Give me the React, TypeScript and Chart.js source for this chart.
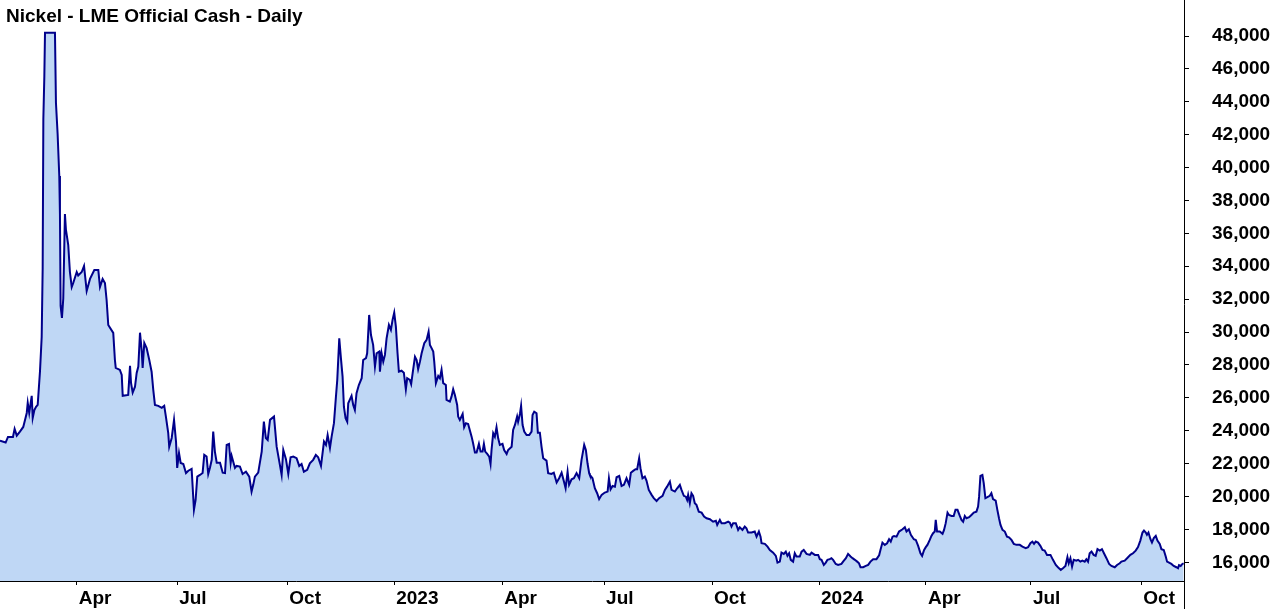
import React, { useEffect, useRef } from 'react';
import { Chart, registerables } from 'chart.js';

Chart.register(...registerables);

const TITLE = 'Nickel - LME Official Cash - Daily';

// x axis: trading-day index from the first day shown
const xTickDays = [46.2, 106.7, 173.0, 237.4, 302.4, 363.8, 428.8, 493.2, 557.6, 620.8, 687.3];
const xTickLabels = ['Apr', 'Jul', 'Oct', '2023', 'Apr', 'Jul', 'Oct', '2024', 'Apr', 'Jul', 'Oct'];
const xMin = 0;
const xMax = 713;

const yTicks = [16000, 18000, 20000, 22000, 24000, 26000, 28000, 30000, 32000, 34000, 36000, 38000, 40000, 42000, 44000, 46000, 48000];
const yMin = 14863;
const yMax = 50189;

// [trading day, USD/t]
const nickelDaily: [number, number][] = [
  [0, 23400], [3.4, 23280], [4.8, 23620], [7.8, 23620], [8.8, 24110], [10.1, 23700], [12.0, 23950], [14.0, 24230],
  [15.1, 24660], [16.1, 25080], [16.7, 25690], [17.6, 25080], [19.1, 26120], [19.7, 24780], [20.7, 25260], [21.7, 25450],
  [22.7, 25570], [24.1, 27640], [25.1, 29700], [25.7, 33900], [26.1, 42950], [26.7, 45540], [27.1, 48200], [33.1, 48200],
  [33.7, 43930], [34.7, 42040], [35.7, 39490], [36.1, 37180], [36.5, 31590], [37.3, 30860], [38.1, 32040], [39.1, 37180],
  [39.7, 36230], [41.1, 35290], [42.1, 33650], [43.2, 32740], [44.1, 32980], [46.2, 33650], [47.1, 33440], [49.2, 33650],
  [50.6, 34020], [52.2, 32500], [53.2, 32860], [54.2, 33230], [56.8, 33770], [59.2, 33770], [60.2, 32740], [61.8, 33230],
  [63.2, 32980], [64.2, 31950], [65.2, 30430], [68.2, 29950], [69.2, 28300], [69.7, 27820], [72.2, 27700], [73.3, 27390],
  [73.9, 26120], [77.2, 26180], [78.3, 27940], [78.9, 26910], [79.9, 26320], [81.3, 26680], [82.3, 27510], [83.3, 27900],
  [84.3, 29960], [85.3, 28910], [85.9, 27820], [86.9, 29340], [88.3, 29030], [89.9, 28300], [91.3, 27590], [92.3, 26480],
  [93.3, 25570], [95.3, 25510], [97.4, 25390], [98.9, 25510], [99.9, 24860], [101.3, 23870], [101.9, 23030], [103.4, 23560],
  [104.8, 24660], [106.0, 23340], [106.7, 21740], [107.8, 22650], [108.8, 22040], [110.4, 21980], [112.0, 21430], [113.4, 21570],
  [115.4, 21680], [116.8, 19190], [117.8, 19790], [118.8, 21210], [120.4, 21310], [122.0, 21430], [123.0, 22530], [124.4, 22430],
  [125.4, 21370], [126.4, 21740], [127.5, 22230], [128.4, 23950], [129.4, 22730], [130.5, 22060], [132.5, 22060], [134.1, 21450],
  [135.5, 21430], [136.5, 23140], [137.9, 23200], [138.9, 22040], [139.5, 22470], [141.5, 21740], [142.5, 21860], [144.5, 21820],
  [146.1, 21370], [148.1, 21510], [150.1, 21210], [151.5, 20300], [152.5, 20710], [153.5, 21210], [155.5, 21450], [157.6, 22730],
  [158.9, 24550], [160.1, 23560], [161.2, 23440], [162.6, 24660], [165.0, 24860], [166.6, 23030], [168.2, 22120], [169.6, 21310],
  [170.6, 22830], [172.2, 22270], [173.6, 21370], [175.0, 22390], [176.6, 22430], [178.6, 22330], [180.2, 21860], [181.6, 21980],
  [183.0, 21510], [185.0, 21620], [186.6, 22020], [188.6, 22230], [190.2, 22530], [191.6, 22390], [193.3, 21860], [195.1, 23340],
  [196.3, 23140], [197.3, 23740], [198.7, 22950], [199.7, 23640], [201.1, 24460], [202.3, 26070], [203.1, 27090], [204.3, 29620],
  [205.3, 28410], [206.3, 27290], [207.1, 25460], [208.1, 24760], [209.1, 24550], [209.7, 25670], [211.7, 26120], [212.7, 25570],
  [213.7, 25260], [214.7, 26280], [216.1, 26780], [217.8, 27190], [218.7, 28300], [220.4, 28410], [221.1, 28710], [222.3, 31040],
  [223.4, 29820], [224.7, 29220], [225.8, 27900], [226.8, 28710], [228.4, 28810], [228.8, 27590], [229.8, 28710], [230.8, 28200],
  [231.8, 28610], [232.8, 29620], [234.2, 30430], [235.4, 30130], [236.4, 30740], [237.4, 31180], [238.4, 30330], [239.4, 28710],
  [240.2, 27590], [241.8, 27650], [243.2, 27530], [244.4, 26520], [245.2, 27190], [246.8, 27090], [247.6, 26840], [248.5, 27500],
  [249.9, 28500], [250.9, 28300], [251.8, 27740], [252.9, 28200], [253.9, 28710], [255.5, 29320], [256.9, 29520], [258.1, 30020],
  [258.9, 29220], [259.9, 29020], [260.9, 28810], [261.5, 28200], [262.5, 26890], [263.9, 27330], [264.9, 27190], [265.9, 27700],
  [266.9, 26890], [268.5, 26780], [268.9, 25870], [270.9, 25770], [271.9, 26070], [272.9, 26520], [273.9, 26180], [275.3, 25570],
  [275.9, 24860], [276.9, 24660], [278.6, 25020], [279.5, 24210], [280.6, 24460], [281.9, 24410], [284.0, 23640], [284.9, 23240],
  [286.0, 22670], [287.0, 22670], [288.4, 23200], [289.4, 22730], [290.6, 22730], [291.4, 23200], [292.2, 22730], [293.4, 22590],
  [294.6, 22430], [295.4, 21980], [296.0, 22830], [297.0, 23850], [298.0, 23640], [299.0, 24210], [300.0, 23540], [301.0, 23140],
  [302.6, 23200], [303.6, 22830], [305.1, 22590], [306.0, 22830], [308.1, 23030], [309.0, 24050], [310.1, 24350], [311.4, 24860],
  [312.0, 24550], [313.1, 25020], [313.8, 25510], [314.7, 24350], [315.7, 23950], [317.1, 23740], [318.7, 23740], [320.1, 23950],
  [320.7, 24960], [321.7, 25160], [323.1, 25060], [323.9, 23880], [325.1, 23880], [326.1, 23030], [327.1, 22330], [329.1, 22180],
  [330.1, 21420], [332.1, 21370], [333.5, 21450], [335.2, 20850], [336.7, 21110], [338.2, 21450], [339.6, 20910], [340.6, 20500],
  [341.8, 21510], [342.7, 20710], [344.2, 21050], [345.6, 21110], [347.2, 21420], [348.8, 21110], [350.2, 22230], [351.8, 23140],
  [352.8, 22830], [353.8, 22020], [354.8, 21420], [355.2, 21310], [356.8, 21110], [358.2, 20500], [359.6, 20200], [360.8, 19840],
  [362.3, 20100], [364.2, 20240], [365.9, 20300], [366.7, 21110], [367.7, 20440], [368.9, 20640], [370.3, 20600], [371.3, 21170],
  [372.9, 21250], [374.3, 20640], [375.7, 20710], [377.3, 21110], [378.9, 20710], [379.9, 21450], [381.3, 21560], [382.7, 21660],
  [383.7, 21660], [384.9, 22330], [385.7, 21720], [386.9, 21110], [388.3, 21210], [389.3, 20970], [390.7, 20400], [392.4, 20100],
  [393.7, 19900], [395.4, 19730], [396.9, 19900], [399.0, 20040], [400.4, 20400], [401.7, 20600], [403.4, 20910], [404.4, 20400],
  [406.4, 20300], [407.8, 20500], [409.4, 20710], [410.4, 20400], [411.8, 20040], [413.0, 19990], [413.8, 19790], [414.4, 20100],
  [415.4, 19590], [416.4, 20200], [417.4, 20040], [418.4, 19590], [419.4, 19490], [420.8, 19080], [422.5, 19020], [424.0, 18780],
  [425.5, 18680], [427.5, 18620], [429.4, 18470], [431.1, 18530], [431.9, 18270], [433.5, 18580], [434.5, 18380], [436.5, 18380],
  [438.5, 18470], [439.5, 18410], [440.5, 18170], [441.5, 18380], [443.1, 18380], [444.5, 17970], [445.5, 18130], [447.1, 17970],
  [448.5, 18170], [449.5, 18070], [450.5, 17810], [452.6, 17810], [454.5, 17870], [455.6, 17560], [457.0, 17870], [458.0, 17560],
  [458.6, 17160], [460.6, 17120], [462.2, 16950], [463.6, 16750], [465.6, 16590], [467.2, 16390], [468.2, 15980], [469.6, 16040],
  [470.6, 16590], [472.0, 16510], [473.2, 16650], [474.2, 16390], [475.2, 16550], [476.2, 16150], [477.6, 16040], [478.6, 16550],
  [479.6, 16350], [481.6, 16350], [482.7, 16650], [484.0, 16750], [485.7, 16510], [487.7, 16450], [488.7, 16590], [490.7, 16450],
  [492.7, 16450], [493.7, 16190], [494.7, 16150], [496.1, 15840], [497.3, 15980], [498.3, 16150], [499.7, 16190], [500.7, 16250],
  [501.7, 16150], [503.3, 15900], [504.7, 15840], [506.7, 15900], [507.7, 16040], [509.4, 16250], [510.7, 16510], [512.2, 16350],
  [513.4, 16250], [514.8, 16150], [516.2, 16040], [517.3, 15940], [518.2, 15700], [519.8, 15700], [521.4, 15780], [522.8, 15840],
  [524.2, 16040], [525.8, 16190], [527.8, 16190], [529.4, 16430], [530.2, 16750], [531.4, 17200], [532.8, 17060], [534.2, 17160],
  [535.4, 17400], [536.4, 17260], [537.5, 17560], [538.4, 17600], [539.9, 17560], [541.4, 17870], [543.5, 18010], [544.9, 18130],
  [545.9, 17870], [547.3, 18010], [548.5, 17670], [550.3, 17400], [551.5, 17360], [552.9, 17000], [554.3, 16550], [555.3, 16390],
  [556.5, 16750], [557.5, 16920], [558.5, 17060], [559.9, 17360], [560.9, 17600], [561.9, 17770], [562.9, 17870], [563.5, 18580],
  [564.3, 17870], [565.9, 17870], [567.6, 17730], [568.5, 17970], [569.5, 18380], [570.6, 19020], [571.5, 18880], [573.0, 18820],
  [574.3, 18820], [575.4, 19190], [576.6, 19190], [578.0, 18820], [579.0, 18580], [580.0, 18470], [581.0, 18820], [582.0, 18680],
  [583.6, 18740], [585.0, 18880], [586.4, 19020], [588.0, 19080], [589.0, 19390], [589.6, 19990], [590.4, 21250], [591.6, 21310],
  [592.4, 20810], [593.4, 19900], [594.6, 19960], [596.0, 20040], [597.0, 20200], [598.0, 19840], [599.6, 19750], [600.6, 19190],
  [601.6, 18680], [602.5, 18270], [603.7, 17970], [605.1, 17870], [606.4, 17560], [607.6, 17520], [609.1, 17360], [610.5, 17120],
  [612.1, 17060], [614.1, 17060], [615.7, 16950], [617.7, 16860], [619.1, 16920], [620.5, 17160], [621.7, 17260], [622.7, 17120],
  [623.7, 17260], [625.1, 17200], [626.5, 17000], [627.8, 16750], [629.1, 16710], [630.5, 16450], [632.6, 16450], [634.1, 16150],
  [635.8, 15840], [637.1, 15700], [638.8, 15540], [640.1, 15640], [641.6, 15780], [642.8, 16310], [643.6, 15940], [644.6, 16250],
  [645.6, 15740], [646.6, 16150], [648.2, 16100], [649.2, 16150], [650.6, 16040], [651.8, 16100], [653.2, 16040], [654.2, 16190],
  [655.2, 16040], [656.2, 16550], [657.3, 16650], [658.6, 16450], [659.8, 16390], [660.9, 16800], [662.3, 16710], [663.6, 16800],
  [664.8, 16550], [666.3, 16250], [667.9, 15900], [669.3, 15780], [671.3, 15700], [672.7, 15840], [674.3, 15940], [675.3, 16040],
  [677.3, 16100], [679.3, 16310], [680.7, 16450], [682.3, 16550], [683.9, 16710], [685.3, 16920], [686.7, 17320], [688.0, 17810],
  [688.9, 17930], [690.0, 17810], [690.7, 17670], [691.6, 17810], [692.8, 17400], [693.7, 17200], [694.8, 17470], [696.0, 17600],
  [697.0, 17320], [698.4, 17120], [699.4, 16800], [700.8, 16750], [702.0, 16350], [702.8, 16040], [704.0, 15980], [705.4, 15900],
  [706.8, 15780], [708.4, 15700], [709.4, 15640], [710.0, 15830], [711.0, 15780], [712.0, 15900], [712.8, 15940],
];

const LINE_COLOR = '#00008B';
const FILL_COLOR = '#BFD7F5';
const FONT_FAMILY = "Arial, 'Liberation Sans', sans-serif";

const frame = {
  id: 'frame',
  afterDraw(chart: any) {
    const { ctx, chartArea, height } = chart;
    const x = Math.round(chartArea.right - 0.5) + 0.5;
    ctx.save();
    ctx.strokeStyle = '#000';
    ctx.lineWidth = 1;
    ctx.beginPath();
    ctx.moveTo(x, 0);
    ctx.lineTo(x, height);
    ctx.stroke();
    ctx.fillStyle = '#000';
    ctx.font = `bold 19px ${FONT_FAMILY}`;
    ctx.textAlign = 'left';
    ctx.textBaseline = 'alphabetic';
    ctx.fillText(TITLE, chartArea.left + 6, chartArea.top + 22);
    ctx.restore();
  },
};

export default function App() {
  const canvasRef = useRef<HTMLCanvasElement | null>(null);

  useEffect(() => {
    const canvas = canvasRef.current;
    if (!canvas) return;
    const tickFont = { family: FONT_FAMILY, size: 19, weight: 'bold' as const };
    const chart = new Chart(canvas, {
      type: 'line',
      data: {
        datasets: [
          {
            data: nickelDaily.map(([d, p]) => ({ x: d, y: p })),
            borderColor: LINE_COLOR,
            backgroundColor: FILL_COLOR,
            borderWidth: 2,
            fill: 'start',
            pointRadius: 0,
            tension: 0,
          },
        ],
      },
      options: {
        responsive: false,
        animation: false,
        layout: { padding: 0 },
        plugins: {
          legend: { display: false },
          tooltip: { enabled: false },
          title: { display: false },
        },
        scales: {
          x: {
            type: 'linear',
            min: xMin,
            max: xMax,
            grid: { display: true, drawOnChartArea: false, drawTicks: true, tickLength: 4, color: '#000', lineWidth: 1 },
            border: { display: true, color: '#000', width: 1 },
            ticks: {
              autoSkip: false,
              maxRotation: 0,
              minRotation: 0,
              align: 'start',
              padding: 2,
              labelOffset: 2,
              color: '#000',
              font: tickFont,
              callback: (_v: any, i: number) => xTickLabels[i],
            },
            afterBuildTicks: (scale: any) => {
              scale.ticks = xTickDays.map((v) => ({ value: v }));
            },
            afterFit: (scale: any) => {
              scale.height = 28;
              scale.paddingLeft = 0;
              scale.paddingRight = 0;
            },
          },
          y: {
            type: 'linear',
            position: 'right',
            min: yMin,
            max: yMax,
            grid: { display: true, drawOnChartArea: false, drawTicks: true, tickLength: 5, color: '#000', lineWidth: 1 },
            border: { display: false },
            ticks: {
              padding: 23,
              color: '#000',
              font: tickFont,
              callback: (v: any) => Number(v).toLocaleString('en-US'),
            },
            afterBuildTicks: (scale: any) => {
              scale.ticks = yTicks.map((v) => ({ value: v }));
            },
            afterFit: (scale: any) => {
              scale.width = 93;
              scale.paddingTop = 0;
              scale.paddingBottom = 0;
            },
          },
        },
      } as any,
      plugins: [frame],
    });
    return () => chart.destroy();
  }, []);

  return (
    <div style={{ position: 'fixed', left: 0, top: 0, width: 1277, height: 609, background: '#fff' }}>
      <canvas ref={canvasRef} width={1277} height={609} style={{ display: 'block' }} />
    </div>
  );
}
